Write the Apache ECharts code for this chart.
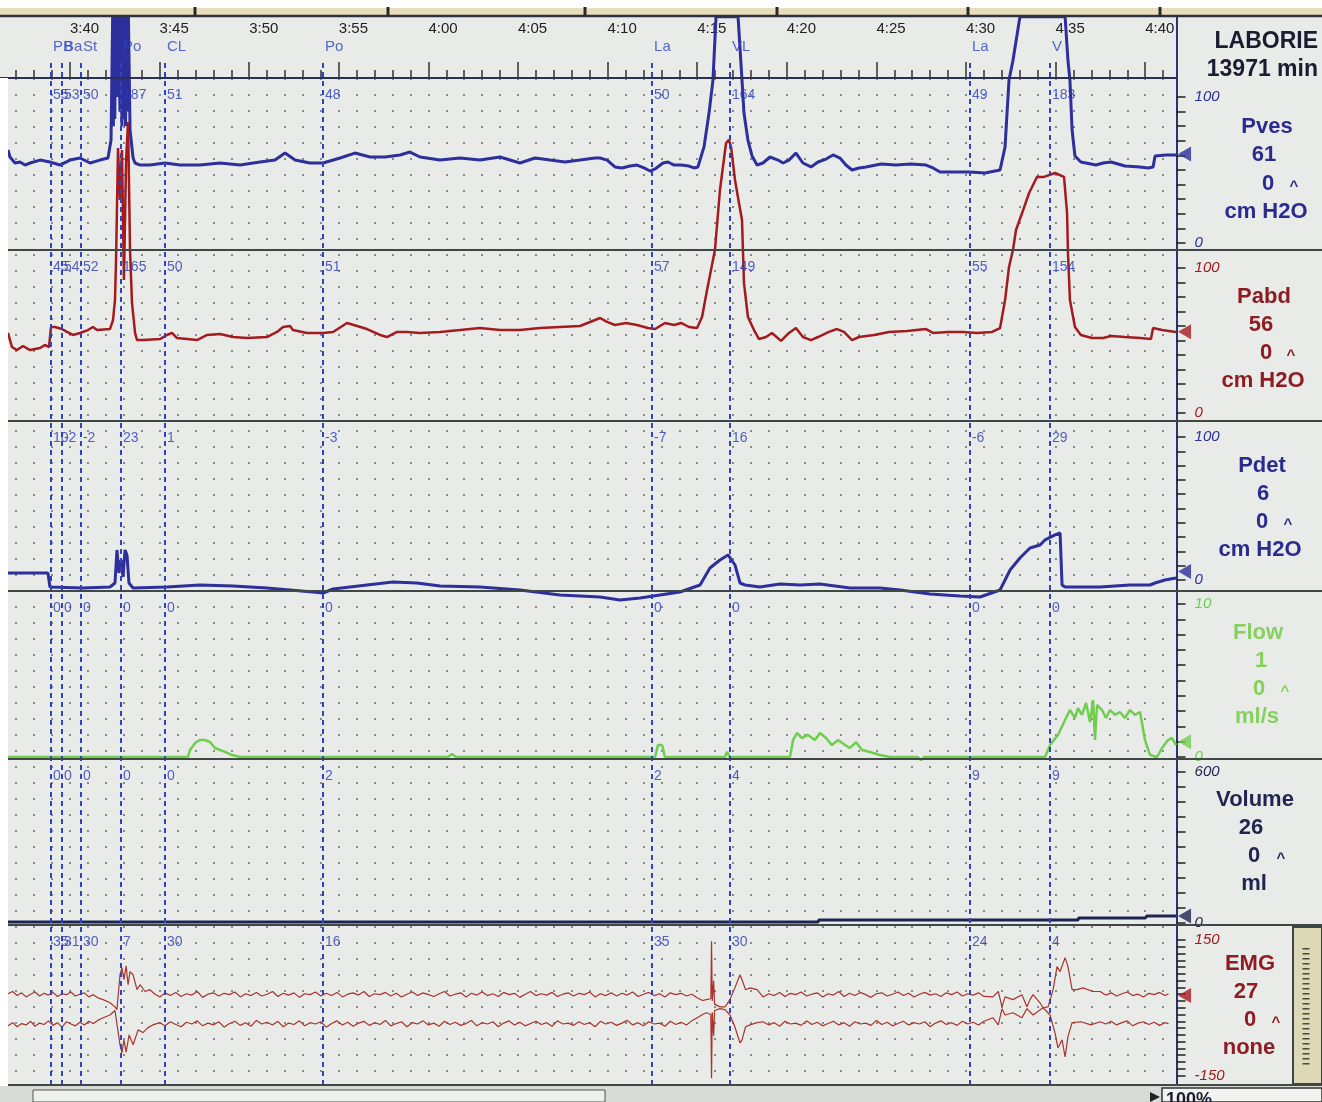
<!DOCTYPE html>
<html><head><meta charset="utf-8">
<script src="https://cdn.jsdelivr.net/npm/echarts@6/dist/echarts.min.js"></script>
<style>html,body{margin:0;padding:0;background:#fff}#c{width:1322px;height:1102px}</style>
</head><body><div id="c"></div><script>
// ---------- DATA (time in minutes after 3:40) ----------
const timeTickValues = [0,5,10,15,20,25,30,35,40,45,50,55,60];
const timeTickLabels = ['3:40','3:45','3:50','3:55','4:00','4:05','4:10','4:15','4:20','4:25','4:30','4:35','4:40'];
const eventTimes = [-1.06,-0.45,0.61,2.85,5.30,14.12,32.48,36.83,50.22,54.69];
const eventNames = ['PB','Ba','St','Po','CL','Po','La','VL','La','V'];
const pvesMarks = ['55','53','50','187','51','48','50','164','49','183'];
const pabdMarks = ['45','54','52','165','50','51','57','149','55','154'];
const pdetMarks = ['10','-2','-2','23','1','-3','-7','16','-6','29'];
const flowMarks = ['0','0','0','0','0','0','0','0','0','0'];
const volumeMarks = ['0','0','0','0','0','2','2','4','9','9'];
const emgMarks = ['35','31','30','7','30','16','35','30','24','4'];

const channelNames = ['Pves','Pabd','Pdet','Flow','Volume','EMG'];
const channelValues = ['61','56','6','1','26','27'];
const channelZeros = ['0','0','0','0','0','0'];
const channelUnits = ['cm H2O','cm H2O','cm H2O','ml/s','ml','none'];
const channelCurrent = [61,56,6,1,26,27];
const axisLabelValues = [[0,100],[0,100],[0,100],[0,10],[0,600],[-150,150]];

const pves = [[-3.46,63.7],[-3.35,58.9],[-3.07,54.8],[-2.79,55.5],[-2.51,53.4],[-2.23,54.8],[-1.67,56.8],[-1.12,55.5],[-0.56,53.4],[0,56.8],[0.56,58.2],[1.12,54.8],[1.67,56.8],[2.12,58.2],[2.29,70.5],[2.38,155],[2.42,80],[2.46,155],[2.50,85],[2.54,155],[2.60,155],[2.64,100],[2.68,155],[2.75,155],[2.79,90],[2.84,155],[2.90,80],[2.95,155],[3.00,85],[3.05,155],[3.10,80],[3.15,155],[3.20,90],[3.26,155],[3.35,77.4],[3.52,58.2],[3.63,54.8],[3.91,53.4],[4.46,53.4],[5.30,54.8],[6.14,53.4],[7.25,53.4],[8.37,54.8],[9.49,53.4],[10.60,55.5],[11.44,56.8],[12.00,61.6],[12.56,56.8],[13.39,54.8],[14.12,54.8],[15.07,58.2],[15.90,61.6],[16.74,58.9],[17.58,58.9],[18.42,60.3],[18.97,62.3],[19.53,58.9],[20.65,56.8],[21.76,58.2],[22.88,56.8],[24.00,58.9],[25.11,54.8],[25.95,58.2],[26.79,56.8],[27.62,55.5],[28.46,56.8],[29.30,58.2],[29.58,58.2],[29.97,56.8],[30.41,52.1],[30.80,51.4],[31.25,52.7],[31.64,53.4],[32.03,51.4],[32.37,49.3],[32.65,50.7],[33.09,54.8],[33.37,55.5],[33.71,53.4],[34.10,53.4],[34.54,52.7],[34.82,51.4],[35.04,52.1],[35.38,65.8],[35.66,89],[35.88,111.6],[36.05,155],[37.28,155],[37.50,111.6],[37.61,89],[37.83,70.5],[38.06,59.6],[38.34,53.4],[38.67,54.8],[39.06,58.9],[39.51,56.8],[39.79,54.8],[40.12,56.8],[40.51,61.6],[40.90,54.8],[41.35,52.1],[41.74,55.5],[42.19,57.5],[42.58,60.3],[42.97,58.2],[43.30,53.4],[43.64,50],[44.03,51.4],[44.42,52.1],[45.26,54.1],[46.09,53.4],[46.93,54.1],[47.77,53.4],[48.16,51.4],[48.55,48.6],[49.39,48.6],[50.22,48.6],[51.06,47.9],[51.90,50],[52.18,65.8],[52.29,89],[52.40,111.6],[52.62,125],[53.01,155],[55.53,155],[55.69,125],[55.80,111.6],[55.92,77.4],[56.08,59.6],[56.41,55.5],[57.25,53.4],[57.65,54.8],[58.09,55.5],[58.87,52.7],[59.71,52.1],[60.16,51.4],[60.44,52.1],[60.55,59.6],[61.16,60.3],[61.72,60.3]];

const pabd = [[-3.46,55.2],[-3.24,45.5],[-2.96,43.4],[-2.62,46.2],[-2.23,43.4],[-1.67,44.8],[-1.40,46.9],[-1.17,45.5],[-1.06,59.3],[-0.84,59.3],[-0.45,57.9],[-0.17,55.9],[0.17,53.8],[0.56,55.2],[1.00,57.2],[1.28,59.3],[1.51,57.2],[2.23,57.9],[2.40,64.1],[2.51,77.9],[2.57,105.5],[2.68,182.8],[2.79,146.9],[2.90,181.4],[3.01,91.7],[3.13,174.5],[3.24,200.7],[3.35,112.4],[3.46,75.9],[3.63,55.2],[3.74,50.3],[4.07,50.3],[5.02,51.0],[5.41,53.8],[5.69,55.2],[5.97,51.7],[6.53,51.0],[7.09,50.3],[7.65,53.8],[8.37,54.5],[9.10,52.4],[9.88,51.7],[10.99,52.4],[11.55,55.9],[11.89,59.3],[12.28,60.0],[12.44,57.2],[13.23,55.2],[14.12,55.2],[14.68,55.9],[15.46,62.1],[16.02,60.0],[16.57,57.9],[17.30,53.8],[17.69,52.4],[18.25,55.9],[18.81,55.9],[19.53,55.2],[20.65,55.9],[21.76,57.2],[22.88,58.6],[24.00,57.2],[25.11,57.2],[26.23,58.6],[27.34,59.3],[28.46,60.0],[29.58,65.5],[29.97,62.8],[30.41,60.7],[31.03,62.1],[31.64,60.7],[32.25,58.6],[32.65,57.9],[33.20,62.1],[33.71,60.7],[34.10,62.1],[34.54,59.3],[34.99,58.6],[35.27,66.2],[35.55,84.8],[35.77,98.6],[35.99,112.4],[36.27,153.8],[36.61,186.2],[36.77,188.3],[36.89,183.4],[37.11,160.7],[37.33,144.8],[37.50,133.1],[37.61,89.7],[37.83,66.2],[38.17,57.2],[38.45,51.0],[38.84,52.4],[39.17,55.2],[39.68,49.7],[40.12,55.2],[40.51,58.6],[40.90,52.4],[41.35,50.3],[41.74,52.4],[42.35,55.9],[42.80,57.9],[43.19,55.9],[43.64,50.3],[44.03,52.4],[44.87,53.8],[45.70,55.9],[46.71,56.6],[47.77,57.9],[48.16,55.2],[48.99,55.9],[49.83,55.9],[50.61,55.2],[51.45,55.9],[51.90,58.6],[52.18,77.9],[52.40,100.7],[52.62,112.4],[52.79,126.2],[53.13,137.9],[53.52,151.7],[53.96,162.8],[54.35,162.8],[54.97,165.5],[55.47,162.8],[55.64,137.9],[55.69,110.3],[55.80,77.9],[56.08,59.3],[56.41,53.8],[57.03,51.7],[57.65,51.7],[58.09,53.1],[58.87,52.4],[59.71,51.7],[60.32,51.0],[60.44,58.6],[60.94,57.2],[61.72,55.9]];

const pdet = [[-3.46,4.9],[-1.23,4.9],[-1.12,-4.9],[0.73,-5.6],[2.23,-4.9],[2.51,-2.1],[2.62,21],[2.73,4.9],[2.85,14],[2.96,2.1],[3.07,21],[3.18,17.5],[3.29,-2.1],[3.52,-5.6],[5.41,-4.9],[7.25,-3.5],[9.10,-4.2],[10.99,-5.6],[12.28,-7.0],[13.56,-8.4],[14.12,-9.1],[14.68,-6.3],[16.57,-3.5],[18.02,-1.4],[19.36,-2.1],[20.65,-4.2],[22.88,-4.9],[25.11,-7.0],[27.34,-10.5],[29.58,-11.9],[30.69,-14],[31.81,-12.6],[32.92,-10.5],[34.04,-8.4],[35.16,-3.5],[35.71,8.4],[36.27,14],[36.72,17.5],[37.11,10.5],[37.39,-2.1],[37.67,-3.5],[38.50,-4.9],[39.62,-2.8],[40.74,-3.5],[41.85,-2.8],[43.53,-5.6],[45.20,-5.6],[46.32,-7.0],[47.99,-9.8],[49.66,-11.2],[50.78,-11.9],[51.90,-7.0],[52.46,7.0],[53.01,15.4],[53.57,22.4],[54.13,24.5],[54.41,28],[54.97,31.5],[55.25,32.9],[55.36,-3.5],[55.53,-4.9],[57.48,-4.9],[59.15,-3.5],[60.27,-3.5],[60.55,-2.1],[61.10,0],[61.72,1.4]];

const flow = [[-3.46,0],[6.58,0],[6.70,0.46],[6.98,0.92],[7.25,1.11],[7.53,1.11],[7.81,0.98],[8.09,0.59],[8.37,0.46],[8.65,0.33],[9.04,0.13],[9.49,0],[21.09,0],[21.32,0.2],[21.54,0],[32.65,0],[32.81,0.78],[33.04,0.78],[33.20,0],[36.55,0],[36.66,0.33],[36.83,0],[40.18,0],[40.35,1.11],[40.57,1.57],[40.85,1.24],[41.18,1.44],[41.57,1.11],[41.85,1.57],[42.19,1.24],[42.52,0.78],[42.86,1.11],[43.25,0.78],[43.53,0.59],[43.86,0.98],[44.20,0.46],[44.64,0.33],[45.20,0.13],[45.76,0],[47.32,0],[47.49,-0.2],[47.66,0],[54.41,0],[54.69,0.78],[55.13,1.44],[55.53,2.42],[55.80,3.07],[56.08,2.55],[56.25,3.2],[56.47,2.75],[56.70,3.53],[56.92,2.29],[57.09,3.73],[57.20,1.11],[57.31,3.4],[57.59,3.07],[57.81,2.55],[58.04,3.07],[58.32,2.75],[58.59,2.94],[58.87,2.55],[59.15,3.07],[59.43,2.75],[59.71,2.94],[59.99,1.11],[60.27,0.13],[60.66,0],[60.94,0.59],[61.27,1.11],[61.50,1.24],[61.72,0.78]];

const volume = [[-3.46,2],[41.74,2],[41.80,10],[56.25,10],[56.30,18],[60.00,18],[60.10,26],[61.72,26]];

const emgUpper = [[-3.46,31],[-3.2,36],[-2.95,27],[-2.7,33],[-2.45,24],[-2.2,30],[-1.95,35],[-1.7,26],[-1.45,32],[-1.2,28],[-0.95,34],[-0.7,25],[-0.45,31],[-0.2,29],[0.05,35],[0.3,26],[0.55,30],[0.8,33],[1.05,24],[1.3,29],[1.55,22],[1.85,18],[2.23,11],[2.51,2],[2.62,-4],[2.79,73],[2.90,89],[3.01,62],[3.13,93],[3.24,51],[3.35,80],[3.52,73],[3.74,40],[3.91,51],[4.19,36],[4.46,40],[4.74,30],[5.02,24],[5.3,33],[5.6,27],[5.9,34],[6.2,25],[6.5,31],[6.8,28],[7.1,36],[7.4,23],[7.7,30],[8.0,33],[8.3,26],[8.6,32],[8.9,29],[9.2,35],[9.5,24],[9.8,31],[10.1,27],[10.4,34],[10.7,26],[11.0,30],[11.3,36],[11.6,25],[11.9,32],[12.2,28],[12.5,33],[12.8,23],[13.1,31],[13.4,29],[13.7,35],[14.0,26],[14.3,32],[14.6,27],[14.9,34],[15.2,24],[15.5,30],[15.8,33],[16.1,28],[16.4,36],[16.7,25],[17.0,31],[17.3,29],[17.6,34],[17.9,26],[18.2,32],[18.5,24],[18.8,30],[19.1,35],[19.4,27],[19.7,33],[20.0,29],[20.3,25],[20.6,31],[20.9,36],[21.2,26],[21.5,30],[21.8,33],[22.1,24],[22.4,32],[22.7,28],[23.0,35],[23.3,27],[23.6,31],[23.9,25],[24.2,34],[24.5,29],[24.8,32],[25.1,23],[25.4,30],[25.7,36],[26.0,27],[26.3,31],[26.6,28],[26.9,34],[27.2,25],[27.5,30],[27.8,33],[28.1,26],[28.4,32],[28.7,29],[29.0,35],[29.3,24],[29.6,31],[29.9,27],[30.2,33],[30.5,26],[30.8,32],[31.1,28],[31.4,35],[31.7,25],[32.0,30],[32.3,34],[32.6,27],[32.9,31],[33.2,24],[33.5,33],[33.8,29],[34.1,32],[34.4,26],[34.7,30],[35.0,22],[35.3,16],[35.5,18],[35.76,20],[35.80,147],[35.84,15],[35.92,60],[35.97,8],[36.27,2],[36.55,2],[36.83,18],[37.1,44],[37.39,73],[37.5,62],[37.7,40],[37.95,44],[38.34,40],[38.67,24],[39.0,31],[39.3,27],[39.6,34],[39.9,25],[40.2,32],[40.5,29],[40.8,35],[41.1,26],[41.4,30],[41.7,33],[42.0,24],[42.3,31],[42.6,28],[42.9,36],[43.2,25],[43.5,32],[43.8,27],[44.1,34],[44.4,29],[44.7,23],[45.0,31],[45.3,33],[45.6,26],[45.9,30],[46.2,35],[46.5,27],[46.8,32],[47.1,24],[47.4,30],[47.7,34],[48.0,28],[48.3,31],[48.6,25],[48.9,33],[49.2,29],[49.5,35],[49.8,26],[50.1,31],[50.4,28],[50.7,33],[51.0,25],[51.5,24],[51.8,36],[52.01,2],[52.18,24],[52.62,18],[53.12,29],[53.40,2],[53.57,18],[53.74,29],[54.13,11],[54.30,0],[54.58,2],[54.86,40],[55.08,91],[55.25,80],[55.53,111],[55.69,91],[55.92,40],[56.19,40],[56.53,44],[57.09,36],[57.48,36],[57.8,28],[58.1,33],[58.4,26],[58.7,31],[59.0,35],[59.3,27],[59.6,30],[59.9,24],[60.2,32],[60.5,29],[60.8,34],[61.1,27],[61.3,31]];

const emgLower = [[-3.46,-40],[-3.2,-33],[-2.95,-42],[-2.7,-35],[-2.45,-38],[-2.2,-30],[-1.95,-41],[-1.7,-34],[-1.45,-37],[-1.2,-29],[-0.95,-39],[-0.7,-33],[-0.45,-43],[-0.2,-31],[0.05,-36],[0.3,-40],[0.55,-32],[0.8,-38],[1.05,-30],[1.3,-35],[1.55,-28],[1.85,-22],[2.23,-16],[2.51,-6],[2.62,-4],[2.79,-82],[2.90,-100],[3.01,-71],[3.13,-98],[3.30,-60],[3.52,-82],[3.8,-49],[4.07,-55],[4.35,-44],[4.62,-38],[5.02,-33],[5.3,-40],[5.6,-31],[5.9,-37],[6.2,-42],[6.5,-32],[6.8,-36],[7.1,-29],[7.4,-40],[7.7,-34],[8.0,-38],[8.3,-31],[8.6,-43],[8.9,-35],[9.2,-30],[9.5,-39],[9.8,-33],[10.1,-41],[10.4,-28],[10.7,-36],[11.0,-32],[11.3,-38],[11.6,-30],[11.9,-42],[12.2,-34],[12.5,-37],[12.8,-29],[13.1,-40],[13.4,-33],[13.7,-36],[14.0,-31],[14.3,-43],[14.6,-35],[14.9,-29],[15.2,-38],[15.5,-32],[15.8,-41],[16.1,-34],[16.4,-30],[16.7,-39],[17.0,-33],[17.3,-37],[17.6,-28],[17.9,-40],[18.2,-35],[18.5,-31],[18.8,-42],[19.1,-33],[19.4,-36],[19.7,-29],[20.0,-38],[20.3,-34],[20.6,-41],[20.9,-30],[21.2,-37],[21.5,-32],[21.8,-39],[22.1,-35],[22.4,-28],[22.7,-40],[23.0,-33],[23.3,-36],[23.6,-31],[23.9,-42],[24.2,-34],[24.5,-29],[24.8,-38],[25.1,-32],[25.4,-40],[25.7,-35],[26.0,-30],[26.3,-37],[26.6,-33],[26.9,-41],[27.2,-29],[27.5,-36],[27.8,-34],[28.1,-39],[28.4,-31],[28.7,-37],[29.0,-33],[29.3,-42],[29.6,-30],[29.9,-36],[30.2,-32],[30.5,-39],[30.8,-34],[31.1,-28],[31.4,-38],[31.7,-33],[32.0,-40],[32.3,-31],[32.6,-36],[32.9,-34],[33.2,-41],[33.5,-30],[33.8,-37],[34.1,-32],[34.4,-38],[34.7,-29],[35.0,-22],[35.3,-15],[35.5,-11],[35.76,-15],[35.80,-156],[35.84,-10],[35.92,-62],[35.97,-6],[36.27,-2],[36.55,-4],[36.83,-16],[37.1,-42],[37.39,-78],[37.5,-71],[37.7,-42],[37.95,-38],[38.34,-33],[38.67,-31],[39.0,-38],[39.3,-33],[39.6,-41],[39.9,-30],[40.2,-36],[40.5,-34],[40.8,-39],[41.1,-29],[41.4,-37],[41.7,-32],[42.0,-40],[42.3,-35],[42.6,-30],[42.9,-38],[43.2,-33],[43.5,-41],[43.8,-31],[44.1,-36],[44.4,-34],[44.7,-39],[45.0,-28],[45.3,-37],[45.6,-32],[45.9,-40],[46.2,-35],[46.5,-30],[46.8,-38],[47.1,-33],[47.4,-36],[47.7,-31],[48.0,-42],[48.3,-34],[48.6,-29],[48.9,-37],[49.2,-33],[49.5,-39],[49.8,-30],[50.1,-36],[50.4,-32],[50.7,-38],[51.0,-30],[51.5,-22],[51.8,-38],[52.01,-2],[52.18,-16],[52.62,-11],[53.12,-22],[53.40,-2],[53.74,-16],[54.30,0],[54.69,-16],[54.97,-56],[55.13,-89],[55.36,-71],[55.53,-109],[55.69,-64],[55.92,-33],[56.41,-31],[56.97,-38],[57.48,-31],[57.8,-36],[58.1,-30],[58.4,-38],[58.7,-33],[59.0,-29],[59.3,-40],[59.6,-34],[59.9,-31],[60.2,-37],[60.5,-32],[60.8,-39],[61.1,-33],[61.3,-35]];

// ---------- LAYOUT ----------
const X_MIN = -3, X_MAX = 61.75, X_START = -3.46;
const GL = 16.24, GL_DATA = 8, GR = 145.44;
const FONT = 'Liberation Sans, Arial, sans-serif';
const BLUE = '#2c2f9c', RED = '#a31b1f', GREEN = '#6fcf4d', NAVY = '#1d2452', EV = '#2f44c4';
const panels = [
  {top:78,  bottom:250,  min:-4.79, max:113.01, step:10, color:BLUE,  text:'#2b2b8f', marks:pvesMarks},
  {top:250, bottom:421,  min:-5.52, max:112.41, step:10, color:RED,   text:'#8d1d22', marks:pabdMarks},
  {top:421, bottom:591,  min:-7.69, max:111.19, step:10, color:BLUE,  text:'#2b2b8f', marks:pdetMarks},
  {top:591, bottom:759,  min:-0.13, max:10.85,  step:1,  color:GREEN, text:'#86d05e', marks:flowMarks},
  {top:759, bottom:925,  min:-10,   max:651.8,  step:60, color:NAVY,  text:'#1f2550', marks:volumeMarks},
  {top:925, bottom:1085, min:-171,  max:183.2,  step:15, color:RED,   text:'#8d1d22', marks:emgMarks}
];
const textPos = [
  [1267,127,1264,155,1268,184,1294,212,1266],
  [1264,297,1261,325,1266,353,1291,381,1263],
  [1262,466,1263,494,1262,522,1288,550,1260],
  [1258,633,1261,661,1259,689,1285,717,1257],
  [1255,800,1251,828,1254,856,1281,884,1254],
  [1250,964,1246,992,1250,1020,1276,1048,1249]
];

function xBase(gi, extra){
  return Object.assign({type:'value', gridIndex:gi, min:X_MIN, max:X_MAX, interval:1,
    axisLine:{show:false}, axisTick:{show:false}, axisLabel:{show:false}, splitLine:{show:false}}, extra||{});
}
const dotStyle = {color:'#868c8c', width:2, type:[2,14]};

const grids = [{left:GL, right:GR, top:17, height:61}];
const xAxes = [
  xBase(0, {position:'bottom',
    axisTick:{show:true, inside:true, length:8, lineStyle:{color:'#333', width:1.5}}}),
  xBase(0, {position:'bottom',
    axisTick:{show:true, inside:true, length:16, customValues:timeTickValues, lineStyle:{color:'#333', width:1.5}},
    axisLabel:{show:true, inside:true, margin:42, align:'left', customValues:timeTickValues, color:'#222', fontSize:15, fontFamily:FONT,
      formatter: v => timeTickLabels[timeTickValues.indexOf(Math.round(v))] || ''}})
];
const yAxes = [{type:'value', gridIndex:0, min:0, max:1, show:false}];

panels.forEach((p, i) => {
  const gi = i + 1;
  grids.push({left:GL_DATA, right:GR, top:p.top, height:p.bottom - p.top});
  xAxes.push({type:'value', gridIndex:gi, min:X_START, max:X_MAX, show:false});
  const ticks = [];
  const [lo, hi] = axisLabelValues[i];
  for (let v = lo; v <= hi + 1e-9; v += p.step) ticks.push(Math.round(v*1000)/1000);
  yAxes.push({type:'value', gridIndex:gi, min:p.min, max:p.max, position:'right',
    axisLine:{show:true, onZero:false, lineStyle:{color:'#2a3470', width:2}},
    axisTick:{show:true, inside:false, length:9, customValues:ticks, lineStyle:{color:'#222', width:1.5}},
    axisLabel:{show:true, customValues:[lo, hi], margin:18, color:p.color, fontStyle:'italic', fontSize:15, fontFamily:FONT},
    splitLine:{show:false}});
});
grids.push({left:GL, right:GR, top:60, bottom:17});
xAxes.push(xBase(7));
yAxes.push({type:'value', gridIndex:7, min:0, max:1, show:false});
grids.push({left:GL, right:GR, top:78, bottom:17});
xAxes.push(xBase(8, {splitLine:{show:true, lineStyle:dotStyle}}));
yAxes.push({type:'value', gridIndex:8, min:0, max:1, show:false});

const traces = [
  {data:pves, panel:0, color:BLUE, width:3},
  {data:pabd, panel:1, color:RED, width:2.5},
  {data:pdet, panel:2, color:BLUE, width:3},
  {data:flow, panel:3, color:GREEN, width:2.5},
  {data:volume, panel:4, color:NAVY, width:3},
  {data:emgUpper, panel:5, color:'#a8342c', width:1.2},
  {data:emgLower, panel:5, color:'#a8342c', width:1.2}
];
const series = [];
series.push({type:'line', xAxisIndex:8, yAxisIndex:7, data:[], z:1, silent:true,
  markLine:{symbol:['none','none'], silent:true, animation:false, label:{show:false},
    lineStyle:{color:EV, width:2, type:[5,4]}, data:eventTimes.map(t => ({xAxis:t}))}});
series.push({type:'scatter', xAxisIndex:0, yAxisIndex:0, symbolSize:0, silent:true, z:6,
  data:eventTimes.map(t => [t, 1]),
  label:{show:true, position:'right', distance:2, offset:[0,30], color:EV, fontSize:15, fontFamily:FONT,
    formatter: p => eventNames[p.dataIndex]}});
traces.forEach(tr => {
  series.push({type:'line', xAxisIndex:tr.panel+2, yAxisIndex:tr.panel+1, data:tr.data, showSymbol:false,
    clip:false, z:4, silent:true, lineStyle:{color:tr.color, width:tr.width}});
});
panels.forEach((p, i) => {
  series.push({type:'scatter', xAxisIndex:i+2, yAxisIndex:i+1, symbolSize:0, silent:true, z:6,
    data:eventTimes.map(t => [t, p.max]),
    label:{show:true, position:'right', distance:2, offset:[0,17], color:'#2a3ab8', fontSize:14, fontFamily:FONT,
      formatter: q => p.marks[q.dataIndex]}});
  series.push({type:'scatter', xAxisIndex:i+2, yAxisIndex:i+1, silent:true, z:7, clip:false,
    symbol:'path://M0,5L10,0L10,10Z', symbolSize:[13,15], symbolOffset:[8,0],
    itemStyle:{color:p.color}, data:[[X_MAX, channelCurrent[i]]]});
});

const g = [];
g.push({type:'rect', shape:{x:0,y:0,width:1322,height:8}, style:{fill:'#ffffff'}, z:100});
g.push({type:'rect', shape:{x:0,y:78,width:8,height:1024}, style:{fill:'#ffffff'}, z:100});
g.push({type:'rect', shape:{x:0,y:8,width:1322,height:8}, style:{fill:'#e8dfbd'}, z:100});
g.push({type:'line', shape:{x1:0,y1:16,x2:1322,y2:16}, style:{stroke:'#2c3040', lineWidth:2.5}, z:100});
[195,388,585,777,968,1160].forEach(x => g.push({type:'rect', shape:{x:x-1.5,y:7,width:3,height:9}, style:{fill:'#2a2a2a'}, z:100}));
[250,421,591,759,925,1085].forEach(y => g.push({type:'line', shape:{x1:8,y1:y,x2:1322,y2:y}, style:{stroke:'#3f4747', lineWidth:2}, z:50}));
g.push({type:'line', shape:{x1:0,y1:78,x2:1177,y2:78}, style:{stroke:'#2b2f55', lineWidth:2}, z:50});
g.push({type:'line', shape:{x1:1177,y1:16,x2:1177,y2:78}, style:{stroke:'#2a3470', lineWidth:2}, z:50});
g.push({type:'text', x:1318, y:42, style:{text:'LABORIE', font:'bold 23px ' + FONT, fill:'#1c1c30', align:'right', verticalAlign:'middle'}, z:60});
g.push({type:'text', x:1318, y:70, style:{text:'13971 min', font:'bold 23px ' + FONT, fill:'#1c1c30', align:'right', verticalAlign:'middle'}, z:60});
channelNames.forEach((n, i) => {
  const c = panels[i].text, tp = textPos[i];
  const mk = (txt, x, y, size) => g.push({type:'text', x, y, style:{text:txt, font:'bold ' + size + 'px ' + FONT, fill:c, align:'center', verticalAlign:'middle'}, z:60});
  mk(n, tp[0], tp[1], 22);
  mk(channelValues[i], tp[2], tp[3], 22);
  mk(channelZeros[i], tp[4], tp[5], 22);
  mk('^', tp[6], tp[5] + 3, 15);
  mk(channelUnits[i], tp[8], tp[7], 22);
});
g.push({type:'rect', shape:{x:1293,y:927,width:29,height:157}, style:{fill:'#ddd8b6', stroke:'#3c4444', lineWidth:2}, z:55});
g.push({type:'line', shape:{x1:1306,y1:948,x2:1306,y2:1066}, style:{stroke:'#4a4a40', lineWidth:7, lineDash:[1.5,3.5]}, z:56});
g.push({type:'rect', shape:{x:0,y:1086,width:1322,height:16}, style:{fill:'#d9dbd7'}, z:100});
g.push({type:'rect', shape:{x:33,y:1090,width:572,height:12}, style:{fill:'#eef0ee', stroke:'#555', lineWidth:1}, z:101});
g.push({type:'rect', shape:{x:1162,y:1088,width:160,height:14}, style:{fill:'#f2f2f0', stroke:'#333', lineWidth:1.5}, z:101});
g.push({type:'polygon', shape:{points:[[1150,1092],[1160,1097],[1150,1102]]}, style:{fill:'#222'}, z:101});
g.push({type:'text', x:1166, y:1091, style:{text:'100%', font:'bold 18px ' + FONT, fill:'#1c1c30', align:'left', verticalAlign:'top'}, z:102});

const chart = echarts.init(document.getElementById('c'), null, {renderer:'canvas'});
chart.setOption({
  animation:false,
  backgroundColor:'#e9ebe8',
  grid:grids, xAxis:xAxes, yAxis:yAxes, series, graphic:g
});
</script></body></html>
